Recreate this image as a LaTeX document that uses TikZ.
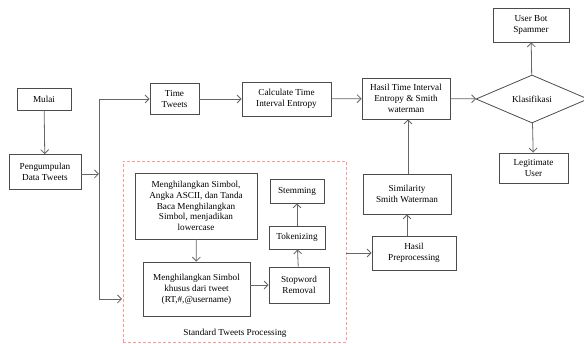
\documentclass[tikz,border=0pt]{standalone}
\usepackage{fontspec}
\setmainfont{Liberation Serif}
\usepackage{tikz}
\usetikzlibrary{shapes,arrows,positioning,calc,arrows.meta}

\begin{document}
\begin{tikzpicture}[x=1pt, y=-1pt,
    box/.style={draw=black!70, thick, fill=white, align=center, inner sep=1pt,
        font=\fontsize{9.2}{10.8}\selectfont},
    arr/.style={draw=black!60, thick, -{Straight Barb[length=4pt,width=8pt]}},
    redbox/.style={draw=red!40, densely dashed, thin}]
    \useasboundingbox (0,0) rectangle (584,344);
    % Standard Tweets Processing (red frame)
    \node[redbox, minimum width=223pt, minimum height=181pt] (std) at (234.5,251.5) {};
    \node[font=\fontsize{9.2}{10.8}\selectfont] (stdlabel) at (235,333) {Standard Tweets Processing};
    % Start and collecting
    \node[box, minimum width=54pt, minimum height=22pt] (mulai) at (44,99) {Mulai};
    \node[box, minimum width=72pt, minimum height=35pt] (kumpul) at (45,172) {Pengumpulan\\Data Tweets};
    % Time branch
    \node[box, minimum width=49pt, minimum height=31pt] (timetw) at (174.5,99) {Time\\Tweets};
    \node[box, minimum width=89pt, minimum height=34pt] (calc) at (286.5,99) {Calculate Time\\Interval Entropy};
    \node[box, minimum width=88pt, minimum height=41pt] (hasil) at (406,98.5) {Hasil Time Interval\\Entropy \& Smith\\waterman};
    \node[box, draw=black!70, diamond, aspect=2.3, inner sep=0pt, minimum width=112pt, minimum height=48pt] (klas) at (532,99) {Klasifikasi};
    \node[box, minimum width=76pt, minimum height=34pt] (bot) at (531,25) {User Bot\\Spammer};
    \node[box, minimum width=69pt, minimum height=30pt] (legit) at (533.5,168) {Legitimate\\User};
    % Preprocessing branch
    \node[box, minimum width=122pt, minimum height=66pt] (simbol) at (196,206) {Menghilangkan Simbol,\\Angka ASCII, dan Tanda\\Baca Menghilangkan\\Simbol, menjadikan\\lowercase};
    \node[box, minimum width=107pt, minimum height=54pt] (khusus) at (196.5,289) {Menghilangkan Simbol\\khusus dari tweet\\(RT,\#,@username)};
    \node[box, minimum width=60pt, minimum height=36pt] (stop) at (299,285) {Stopword\\Removal};
    \node[box, minimum width=56pt, minimum height=23pt] (token) at (297,237.5) {Tokenizing};
    \node[box, minimum width=54pt, minimum height=24pt] (stem) at (297,191) {Stemming};
    \node[box, minimum width=84pt, minimum height=34pt] (hpre) at (414,253) {Hasil\\Preprocessing};
    \node[box, minimum width=88pt, minimum height=40pt] (simil) at (407,194) {Similarity\\Smith Waterman};
    % Connectors
    \coordinate (split) at (99,174);
    \coordinate (stdin) at (122,299);
    \draw[arr] (mulai) -- (kumpul);
    \draw[arr] (kumpul.east |- split) -- (split);
    \draw[arr] (split) |- (timetw.west);
    \draw[arr] (split) |- (stdin);
    \draw[arr] (timetw) -- (calc);
    \draw[arr] (calc) -- (hasil);
    \draw[arr] (hasil) -- (klas);
    \draw[arr] (klas) -- (bot);
    \draw[arr] (klas) -- (legit);
    \draw[arr] (simbol) -- (khusus);
    \draw[arr] (khusus.east |- stop) -- (stop.west);
    \draw[arr] (stop) -- (token);
    \draw[arr] (token) -- (stem);
    \draw[arr] (std.east |- hpre) -- (hpre.west);
    \draw[arr] (hpre.north -| simil) -- (simil.south);
    \draw[arr] (simil.north -| 408,0) -- (hasil.south -| 408,0);
\end{tikzpicture}
\end{document}
